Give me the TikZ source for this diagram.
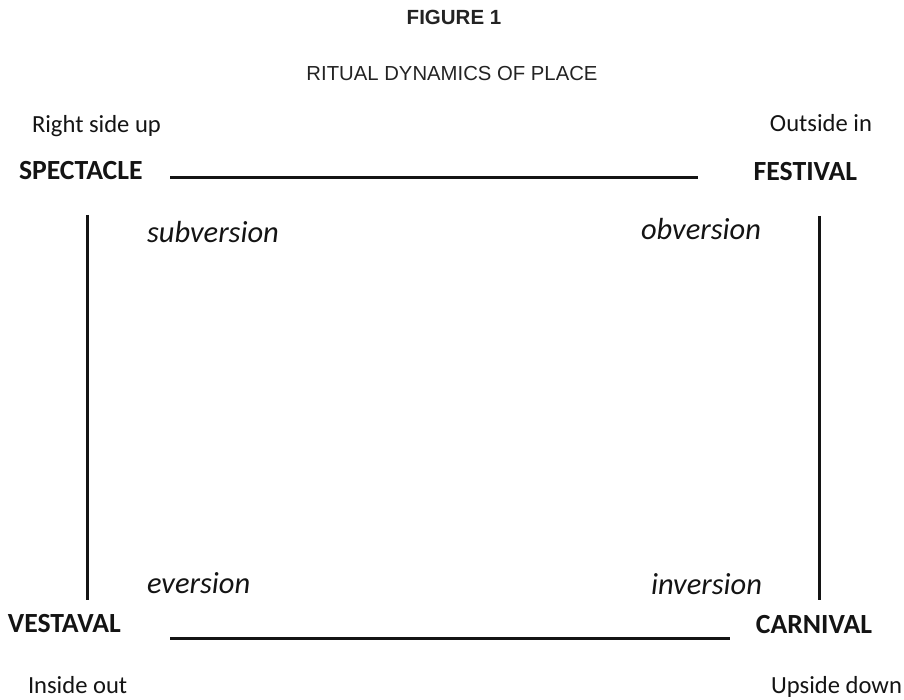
\documentclass[tikz,border=0pt]{standalone}
\usepackage{fontspec}
\setmainfont{Carlito}
\newfontfamily\titlefont{Liberation Sans}
\usetikzlibrary{positioning}
\definecolor{rdInk}{RGB}{20,20,20}
\definecolor{rdTitle}{RGB}{35,35,35}
\tikzset{
    base/.style={inner sep=0pt, outer sep=0pt, text=rdInk},
    heading/.style={base, text=rdTitle, font=\titlefont\bfseries\fontsize{20.5}{24}\selectfont},
    subheading/.style={base, text=rdTitle, font=\titlefont\fontsize{20.3}{24}\selectfont},
    place/.style={base, font=\bfseries\fontsize{27.7}{32}\selectfont},
    motto/.style={base, font=\fontsize{24.6}{29}\selectfont},
    turn/.style={base, font=\itshape\fontsize{30.5}{35}\selectfont},
    edge/.style={draw=rdInk, line width=3pt}
}
\begin{document}
\begin{tikzpicture}[x=1pt, y=-1pt]
  \useasboundingbox (0,0) rectangle (904,700);

  % Title
  \node[heading, anchor=base] (fig) at (454,25) {FIGURE 1};
  \node[subheading, anchor=base] (title) at (452,81) {RITUAL DYNAMICS OF PLACE};

  % Corners
  \node[place, anchor=base west] (spectacle) at (19,180) {SPECTACLE};
  \node[place, anchor=base east] (festival) at (857,181) {FESTIVAL};
  \node[place, anchor=base west] (vestaval) at (8,632) {VESTAVAL};
  \node[place, anchor=base east] (carnival) at (872,633) {CARNIVAL};

  % Mottos
  \node[motto, anchor=base west] (rightup) at (32,133) {Right side up};
  \node[motto, anchor=base east] (outin) at (872,132) {Outside in};
  \node[motto, anchor=base west] (inout) at (28,693) {Inside out};
  \node[motto, anchor=base east] (upsdown) at (902,693) {Upside down};

  % Turns
  \node[turn, anchor=base west] (subv) at (147,243) {subversion};
  \node[turn, anchor=base east] (obv) at (761,240) {obversion};
  \node[turn, anchor=base west] (ev) at (147,593) {eversion};
  \node[turn, anchor=base east] (inv) at (762,594) {inversion};

  % Sides of the square
  \coordinate (topL) at (170,178);
  \coordinate (topR) at (698,178);
  \coordinate (botL) at (170,638);
  \coordinate (botR) at (730,638);
  \coordinate (leftT) at (87,215);
  \coordinate (leftB) at (87,600);
  \coordinate (rightT) at (819,216);
  \coordinate (rightB) at (819,600);
  \draw[edge] (topL) -- (topR);
  \draw[edge] (botL) -- (botR);
  \draw[edge] (leftT) -- (leftB);
  \draw[edge] (rightT) -- (rightB);
\end{tikzpicture}
\end{document}
